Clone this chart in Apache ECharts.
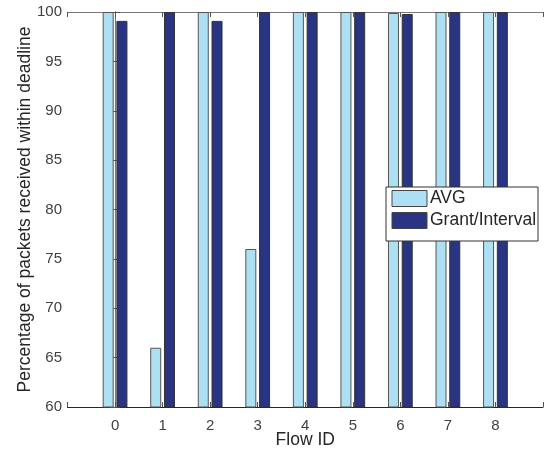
<!DOCTYPE html>
<html><head><meta charset="utf-8">
<script src="https://cdn.jsdelivr.net/npm/echarts@6/dist/echarts.min.js"></script>
<style>html,body{margin:0;padding:0;background:#fff}#c{width:546px;height:456px}</style>
</head><body><div id="c"></div>
<script>
const flowIds = [0, 1, 2, 3, 4, 5, 6, 7, 8];
const avgValues = [100, 66, 100, 76, 100, 100, 99.9, 100, 100];
const grantValues = [99.1, 100, 99.1, 100, 100, 100, 99.8, 100, 100];
const yTicks = [60, 65, 70, 75, 80, 85, 90, 95, 100];
const seriesNames = ['AVG', 'Grant/Interval'];

const FONT = 'Liberation Sans, Arial, Helvetica, sans-serif';
const TXT = '#404040';
const chart = echarts.init(document.getElementById('c'), null, {renderer: 'canvas'});
const tickStyle = {show: true, inside: true, length: 5, lineStyle: {color: '#555', width: 1}};
const option = {
  animation: false,
  backgroundColor: '#fff',
  textStyle: {fontFamily: FONT},
  grid: {left: 67.5, right: 3, top: 12, bottom: 49, containLabel: false, outerBoundsMode: 'none'},
  legend: {
    orient: 'vertical', left: 386, top: 187,
    itemWidth: 35, itemHeight: 16, itemGap: 1,
    padding: [1, 2, 10, 5.5],
    icon: 'rect',
    backgroundColor: '#fff', borderColor: '#333', borderWidth: 1,
    textStyle: {fontSize: 17.5, lineHeight: 21, color: '#262626', fontFamily: FONT, padding: [0, 0, 0, -2]},
    data: seriesNames.map(n => ({name: n, itemStyle: {borderColor: '#444', borderWidth: 1}}))
  },
  xAxis: [{
    type: 'value', min: -1, max: 9, interval: 1, position: 'bottom',
    name: 'Flow ID', nameLocation: 'middle', nameGap: 24, nameMoveOverlap: false,
    nameTextStyle: {fontSize: 17.5, color: '#262626', fontFamily: FONT},
    axisLine: {show: true, lineStyle: {color: '#262626', width: 1}},
    axisTick: tickStyle,
    axisLabel: {fontSize: 15, color: TXT, margin: 11, fontFamily: FONT,
      formatter: v => (flowIds.indexOf(v) >= 0 ? String(v) : '')},
    splitLine: {show: false}
  }, {
    type: 'value', min: -1, max: 9, interval: 1, position: 'top',
    axisLine: {show: true, lineStyle: {color: '#777', width: 1}},
    axisTick: tickStyle, axisLabel: {show: false}, splitLine: {show: false}
  }],
  yAxis: [{
    type: 'value', min: 60, max: 100, interval: 5,
    name: 'Percentage of packets received within deadline',
    nameLocation: 'middle', nameGap: 33, nameMoveOverlap: false,
    nameTextStyle: {fontSize: 17.5, color: '#262626', fontFamily: FONT},
    axisLine: {show: true, lineStyle: {color: '#262626', width: 1}},
    axisTick: tickStyle,
    axisLabel: {fontSize: 15, color: TXT, margin: 5.5, fontFamily: FONT,
      formatter: v => (yTicks.indexOf(v) >= 0 ? String(v) : '')},
    splitLine: {show: false}
  }, {
    type: 'value', min: 60, max: 100, interval: 5, position: 'right',
    axisLine: {show: true, lineStyle: {color: '#777', width: 1}},
    axisTick: tickStyle, axisLabel: {show: false}, splitLine: {show: false}
  }],
  series: [{
    name: seriesNames[0], type: 'bar', xAxisIndex: 0, yAxisIndex: 0,
    barWidth: 11, barGap: '25%',
    itemStyle: {color: '#aee0f3', borderColor: '#555', borderWidth: 1},
    data: flowIds.map((f, i) => [f, avgValues[i]])
  }, {
    name: seriesNames[1], type: 'bar', xAxisIndex: 0, yAxisIndex: 0,
    barWidth: 11, barGap: '25%',
    itemStyle: {color: '#293583', borderColor: '#333', borderWidth: 1},
    data: flowIds.map((f, i) => [f, grantValues[i]])
  }]
};
chart.setOption(option);
</script></body></html>
